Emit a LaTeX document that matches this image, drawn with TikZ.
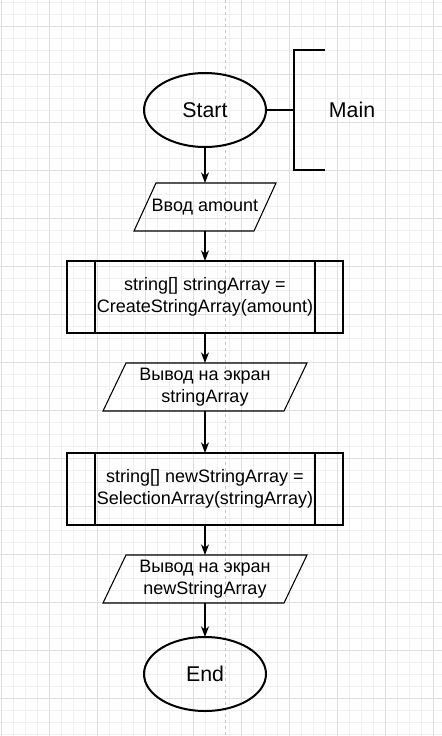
\documentclass[tikz,border=0pt]{standalone}
\usepackage{fontspec}
\setmainfont{Liberation Sans}
\usetikzlibrary{positioning,shapes.geometric,arrows.meta}

\definecolor{gridminor}{HTML}{F0F0F0}
\definecolor{gridmajor}{HTML}{DEDEDE}
\definecolor{pagesplit}{HTML}{C4C4C4}

\tikzset{
	terminal/.style={draw, ellipse, line width=1.5pt, minimum width=91.5pt, minimum height=55.5pt, inner sep=0pt, outer sep=0pt, font=\fontsize{16}{19}\selectfont},
	io/.style={inner sep=0pt, outer sep=0pt, minimum height=36pt, align=center, font=\fontsize{13.5}{16.2}\selectfont},
	ioline/.style={line width=0.8pt, line join=miter},
	subproc/.style={draw, line width=0.9pt, minimum width=207pt, minimum height=54pt, inner sep=0pt, outer sep=0pt, align=center, font=\fontsize{13.5}{16.2}\selectfont},
	flow/.style={-{Stealth[length=8pt,width=6pt,inset=2.5pt]}, line width=0.9pt},
	bracket/.style={line width=1.5pt, line join=miter},
}

\begin{document}
\begin{tikzpicture}[x=0.75pt, y=-0.75pt]
	\useasboundingbox (0,0) rectangle (442,736);
	\fill[white] (0,0) rectangle (442,736);
	
	% background grid
	\foreach \gx in {1,13,...,441} \draw[gridminor, line width=0.75pt] (\gx,0) -- (\gx,736);
	\foreach \gy in {2,14,...,734} \draw[gridminor, line width=0.75pt] (0,\gy) -- (442,\gy);
	\foreach \gx in {1,49,...,433} \draw[gridmajor, line width=0.75pt] (\gx,0) -- (\gx,736);
	\foreach \gy in {26,74,...,698} \draw[gridmajor, line width=0.75pt] (0,\gy) -- (442,\gy);
	\draw[pagesplit, line width=0.75pt, dash pattern=on 2.25pt off 2.25pt] (225,0) -- (225,736);
	
	\node[terminal] (start) at (205,110) {Start};
	\node[io, minimum width=106.5pt, below=27pt of start] (read) {Ввод amount};
	\node[subproc, below=22.5pt of read] (call1) {string[] stringArray =\\CreateStringArray(amount)};
	\node[io, minimum width=153pt, below=22.5pt of call1] (show1) {Вывод на экран\\stringArray};
	\node[subproc, below=31.5pt of show1] (call2) {string[] newStringArray =\\SelectionArray(stringArray)};
	\node[io, minimum width=153pt, below=22.5pt of call2] (show2) {Вывод на экран\\newStringArray};
	\node[terminal, below=25.5pt of show2] (finish) {End};
	
	% parallelograms and side bars
	\foreach \n/\s in {read/16.5pt, show1/17.25pt, show2/17.25pt}
		\draw[ioline] ([xshift=\s]\n.north west) -- (\n.north east) -- ([xshift=-\s]\n.south east) -- (\n.south west) -- cycle;
	\foreach \n in {call1, call2}
		\draw[line width=0.9pt] ([xshift=21pt]\n.north west) -- ([xshift=21pt]\n.south west)
			([xshift=-21pt]\n.north east) -- ([xshift=-21pt]\n.south east);
	
	\foreach \a/\b in {start/read, read/call1, call1/show1, show1/call2, call2/show2, show2/finish}
		\draw[flow] (\a) -- (\b);
	
	% annotation
	\coordinate (brk) at (294,110);
	\draw[line width=0.9pt] (start) -- (brk);
	\draw[bracket] (325,50) -- (294,50) -- (294,170) -- (325,170);
	\node[font=\fontsize{16}{19}\selectfont] (main) at (352,110) {Main};
\end{tikzpicture}
\end{document}
